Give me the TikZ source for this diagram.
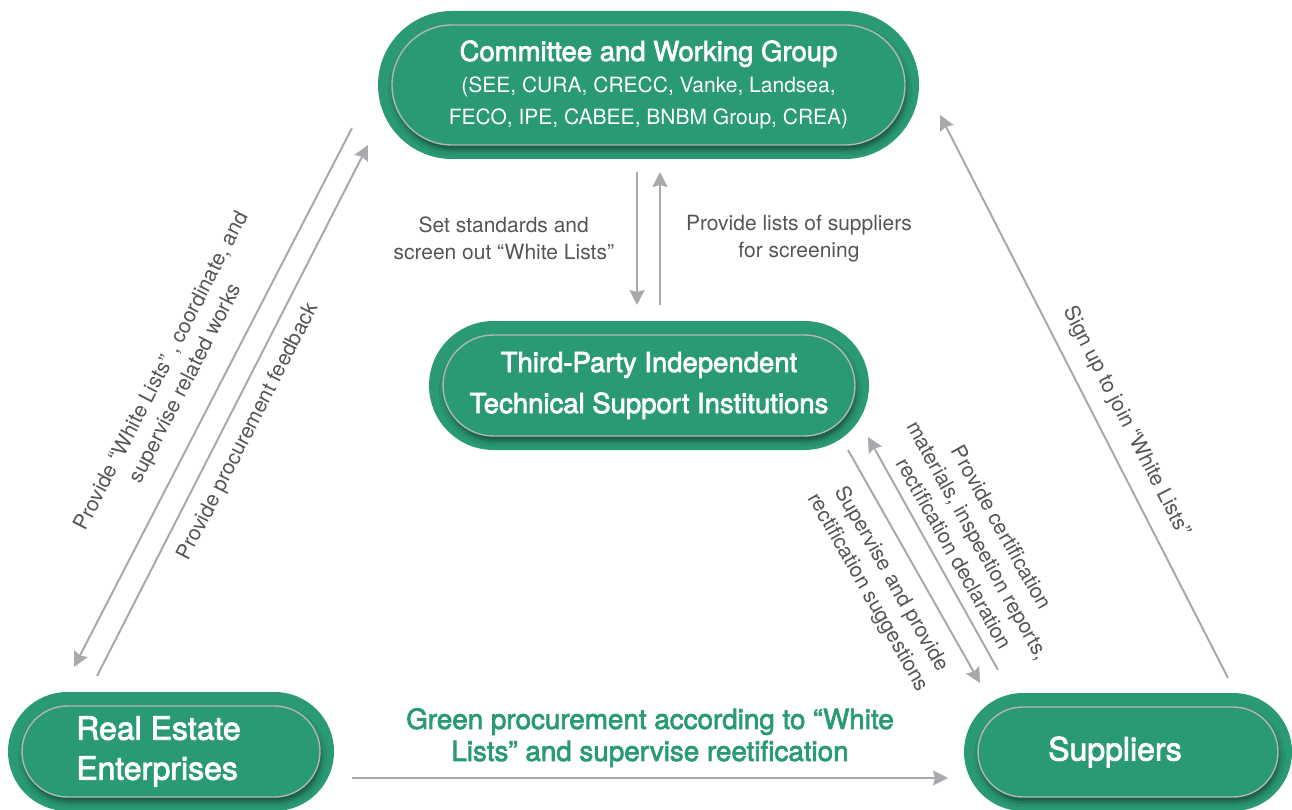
\documentclass[tikz,border=0pt]{standalone}
\usepackage{fontspec}
\setmainfont{TeX Gyre Heros}
\newfontfamily\midfont{TeX Gyre Heros}[FakeBold=2.5]
\usetikzlibrary{arrows.meta,shapes.misc,shadows.blur}

\definecolor{leaf}{RGB}{42,154,116}
\definecolor{rim}{RGB}{178,182,180}
\definecolor{wire}{RGB}{167,169,172}
\definecolor{ink}{RGB}{85,85,85}

\tikzset{
    pill/.style={rounded rectangle, inner sep=0pt, fill=leaf, draw=rim, line width=1.4pt,
        text=white, align=center,
        preaction={draw=leaf, line width=28pt},
        blur shadow={shadow xshift=1.5pt, shadow yshift=-5pt, shadow opacity=45, shadow blur radius=5pt}},
    flow/.style={draw=wire, line width=2pt, -{Stealth[length=15pt, width=15pt, inset=2pt]}},
    note/.style={text=ink, align=center, inner sep=2pt, font=\fontsize{21}{27}\selectfont},
}

\begin{document}
\begin{tikzpicture}[x=1pt, y=-1pt]
            \useasboundingbox (0, 0) rectangle (1292, 810);
            %\draw[lightgray] (0, 0) grid[step=100] (1292, 810);
            \node[pill, minimum width=513pt, minimum height=120pt, font=\fontsize{21}{32}\selectfont] (committee) at (648.5, 85)
                {{\midfont\fontsize{27.5}{32}\selectfont Committee and Working Group}\\(SEE, CURA, CRECC, Vanke, Landsea,\\FECO, IPE, CABEE, BNBM Group, CREA)};
            \node[pill, minimum width=412pt, minimum height=101pt, font=\midfont\fontsize{27.5}{41}\selectfont] (thirdparty) at (649, 385.5)
                {Third-Party Independent\\Technical Support Institutions};
            \node[pill, minimum width=298pt, minimum height=91pt, align=left, font=\midfont\fontsize{32}{40}\selectfont] (estate) at (171, 751.5)
                {Real Estate\hspace*{25pt}\\Enterprises};
            \node[pill, minimum width=300pt, minimum height=90pt, font=\midfont\fontsize{32}{40}\selectfont] (suppliers) at (1128, 752)
                {Suppliers\hspace*{26pt}};

            % ends of the connectors
            \coordinate (cw1) at (637, 172);
            \coordinate (tw1) at (637, 305);
            \coordinate (tw2) at (660, 305);
            \coordinate (cw2) at (660, 172);
            \coordinate (ca) at (352, 128);
            \coordinate (ea) at (74, 667);
            \coordinate (eb) at (97, 676);
            \coordinate (cb) at (368, 145);
            \coordinate (tb) at (848, 450);
            \coordinate (sb) at (980, 683);
            \coordinate (sc) at (998, 670);
            \coordinate (tc) at (868, 437);
            \coordinate (sd) at (1228, 678);
            \coordinate (cd) at (940, 115);
            \coordinate (ee) at (352, 778);
            \coordinate (se) at (948, 778);

            \draw[flow] (cw1) -- node[note, left=20pt] {Set standards and\\screen out “White Lists”} (tw1);
            \draw[flow] (tw2) -- node[note, right=23pt] {Provide lists of suppliers\\for screening} (cw2);
            \draw[flow] (ca) -- node[note, sloped, above=17pt] {Provide “White Lists” , coordinate, and\\supervise related works} (ea);
            \draw[flow] (eb) -- node[note, sloped, below=11pt, pos=0.48] {Provide procurement feedback} (cb);
            \draw[flow] (tb) -- node[note, sloped, below=13pt] {Supervise and provide\\rectification suggestions} (sb);
            \draw[flow] (sc) -- node[note, sloped, above=8pt, pos=0.46] {Provide certification\\materials, inspeetion reports,\\rectification declaration} (tc);
            \draw[flow] (sd) -- node[note, sloped, above=13pt, pos=0.434] {Sign up to join “White Lists”} (cd);
            \draw[flow] (ee) -- node[note, above=8pt, text=leaf, font=\midfont\fontsize{27.8}{32}\selectfont]
                {Green procurement according to “White\\Lists” and supervise reetification} (se);
        \end{tikzpicture}
\end{document}
